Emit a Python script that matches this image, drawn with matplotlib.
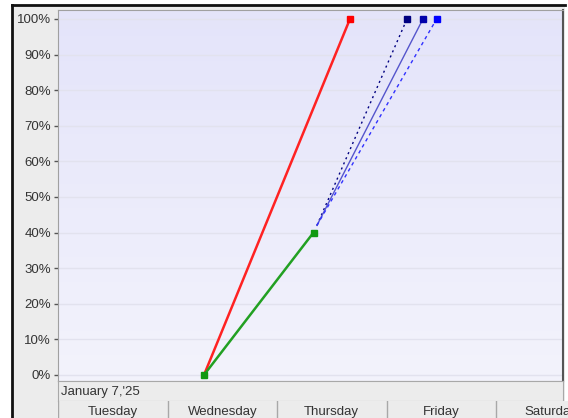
import numpy as np
import pandas as pd
import matplotlib
matplotlib.use("Agg")
import matplotlib.pyplot as plt
import matplotlib.dates as mdates

plt.rcParams['font.family'] = ['Liberation Sans', 'DejaVu Sans']

# burn-up series (percent complete)
actual_t = ["2025-01-08 08:00", "2025-01-09 08:00"]
actual_v = [0, 40]
plan_t = ["2025-01-08 08:00", "2025-01-09 16:00"]
plan_v = [0, 100]
fc_start_t = "2025-01-09 08:45"
fc_start_v = 42
fc_end_t = {"early": "2025-01-10 04:30", "likely": "2025-01-10 08:00", "late": "2025-01-10 11:00"}
fc_end_v = 100

days = ["Tuesday", "Wednesday", "Thursday", "Friday", "Saturday"]
day_start = pd.Timestamp("2025-01-07")
yticks = list(range(0, 101, 10))

W, H = 568, 418
fig = plt.figure(figsize=(W / 100, H / 100), dpi=100)
fig.patch.set_facecolor("white")

def fx(px):
    return px / W

def fy(py):
    return 1 - py / H

x0 = mdates.date2num(day_start)
px_per_day = 109.5
left_px, right_px = 58, 563
xmin = x0
xmax = x0 + (right_px - left_px) / px_per_day

# grey panel behind the tick labels, framed by black on left/top
panel = fig.add_axes([fx(12), 0, fx(right_px + 2) - fx(12), fy(5)])
panel.set_facecolor("#ececec")
panel.set_xticks([]); panel.set_yticks([])
for s in ["right", "bottom"]:
    panel.spines[s].set_visible(False)
for s in ["left", "top"]:
    panel.spines[s].set_linewidth(2)
    panel.spines[s].set_color("#111111")

ax = fig.add_axes([fx(left_px), fy(381), fx(right_px) - fx(left_px), fy(10) - fy(381)])
ax.set_xlim(xmin, xmax)
ymin, ymax = -1.7, 102.5
ax.set_ylim(ymin, ymax)

# vertical lavender gradient
grad = np.linspace(0, 1, 256).reshape(-1, 1)
top_c = np.array([0.894, 0.894, 0.980])
bot_c = np.array([0.953, 0.953, 0.988])
img = top_c * (1 - grad)[..., None] + bot_c * grad[..., None]
ax.imshow(img, extent=[xmin, xmax, ymin, ymax], aspect="auto", zorder=0, origin="upper")

ax.set_yticks(yticks)
ax.set_yticklabels([f"{v}%" for v in yticks], fontsize=9.5, color="#333333")
ax.tick_params(axis="y", length=3, width=1, color="#555555", pad=2)
ax.set_xticks([])
for v in yticks:
    ax.axhline(v, color="#e2e2ee", lw=1, zorder=1)
for s in ax.spines.values():
    s.set_color("#a0a0a0")
ax.spines["right"].set_color("#555555")
ax.spines["right"].set_linewidth(1.5)

def tnum(ts):
    return mdates.date2num(pd.to_datetime(ts))

ax.plot(tnum(plan_t), plan_v, color="#ff2222", lw=1.8, zorder=3)
ax.plot(tnum(plan_t[1:]), plan_v[1:], "s", color="#ff0000", ms=4, zorder=4)
ax.plot(tnum(actual_t), actual_v, color="#22a022", lw=1.8, marker="s", ms=4,
        mfc="#119911", mec="#119911", zorder=4)

styles = {"early": ("#000080", (0, (1.5, 2.5)), "#000080"),
          "likely": ("#5555cc", "-", "#0000aa"),
          "late": ("#3030ff", (0, (2.5, 2.5)), "#0000ff")}
for k, (lc, ls, mc) in styles.items():
    xs = [tnum(fc_start_t), tnum(fc_end_t[k])]
    ax.plot(xs, [fc_start_v, fc_end_v], color=lc, lw=1, ls=ls, zorder=3)
    ax.plot(xs[1:], [fc_end_v], "s", color=mc, ms=4, zorder=4)

# date header band
band = fig.add_axes([fx(left_px), fy(401), fx(right_px) - fx(left_px), fy(381) - fy(401)])
band.set_facecolor("#ececec")
band.set_xticks([]); band.set_yticks([])
for s in band.spines.values():
    s.set_color("#a8a8a8")
band.text(0.006, 0.45, "January 7,'25", transform=band.transAxes, fontsize=9.5,
          color="#333333", va="center", ha="left")

# day header band, runs past the right edge
dband = fig.add_axes([fx(left_px), 0, 1 - fx(left_px), fy(401)])
dband.set_facecolor("#ececec")
dxmax = x0 + (W - left_px) / px_per_day
dband.set_xlim(xmin, dxmax)
dband.set_ylim(0, 1)
dband.set_xticks([]); dband.set_yticks([])
for s in dband.spines.values():
    s.set_visible(False)
for i, d in enumerate(days):
    dband.axvline(x0 + i, color="#a8a8a8", lw=1)
    dband.text(x0 + i + 0.5, 0.35, d, fontsize=9.5, color="#333333",
               ha="center", va="center", clip_on=True)

fig.savefig("out.png", dpi=100)
